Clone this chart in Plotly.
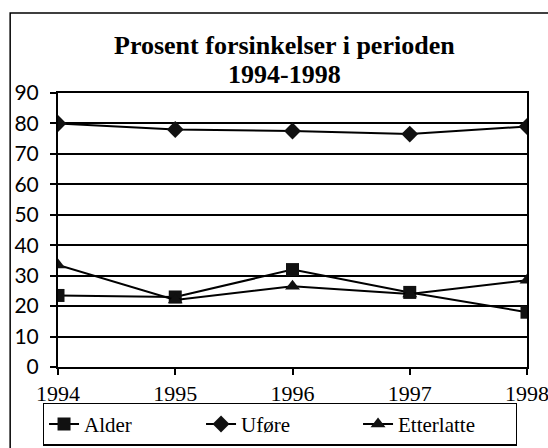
import plotly.graph_objects as go

# data
years = [1994, 1995, 1996, 1997, 1998]
alder = [23.5, 23, 32, 24.5, 18]
ufore = [80, 78, 77.5, 76.5, 79]
etterlatte = [33.5, 22, 26.5, 24, 28.5]

y_ticks = [0, 10, 20, 30, 40, 50, 60, 70, 80, 90]

SERIF = "Liberation Serif, Times New Roman, serif"

fig = go.Figure()

fig.add_trace(go.Scatter(
    x=years, y=alder, name="Alder", mode="lines+markers",
    line=dict(color="black", width=2),
    marker=dict(symbol="square", size=13, color="#111"),
))
fig.add_trace(go.Scatter(
    x=years, y=ufore, name="Uføre", mode="lines+markers",
    line=dict(color="black", width=2),
    marker=dict(symbol="diamond", size=13, color="#111"),
))
fig.add_trace(go.Scatter(
    x=years, y=etterlatte, name="Etterlatte", mode="lines+markers",
    line=dict(color="black", width=2),
    marker=dict(symbol="triangle-up", size=13, color="#111"),
))

# outer frame of the chart (runs off the right and bottom edges)
fig.add_shape(type="rect", xref="paper", yref="paper",
              x0=-0.102, x1=1.2, y0=-0.5, y1=1.292,
              line=dict(color="black", width=1.5), layer="below")

# two-line title
fig.add_annotation(text="<b>Prosent forsinkelser i perioden</b>",
                   xref="paper", yref="paper", x=0.484, y=1.175,
                   xanchor="center", yanchor="middle",
                   showarrow=False, font=dict(family=SERIF, size=26))
fig.add_annotation(text="<b>1994-1998</b>",
                   xref="paper", yref="paper", x=0.484, y=1.066,
                   xanchor="center", yanchor="middle",
                   showarrow=False, font=dict(family=SERIF, size=26))

fig.update_layout(
    width=548, height=448,
    margin=dict(l=58, r=21, t=93, b=81, autoexpand=False),
    paper_bgcolor="white", plot_bgcolor="white",
    font=dict(family=SERIF, size=21, color="black"),
    showlegend=True,
    legend=dict(
        orientation="h", x=0.473, xanchor="center", y=-0.13, yanchor="top",
        bordercolor="black", borderwidth=1.2, bgcolor="white",
        font=dict(family=SERIF, size=21),
        entrywidth=112, entrywidthmode="pixels",
    ),
)

fig.update_xaxes(
    range=[1994, 1998], tickvals=years,
    showgrid=False, zeroline=False,
    showline=True, linecolor="black", linewidth=2, mirror=True,
    ticks="outside", ticklen=6, tickcolor="black", tickwidth=1.5,
    tickfont=dict(family=SERIF, size=22),
    ticklabeloverflow="allow",
)
fig.update_yaxes(
    range=[0, 90], tickvals=y_ticks,
    showgrid=True, gridcolor="black", gridwidth=1.8,
    zeroline=False,
    showline=True, linecolor="black", linewidth=2, mirror=True,
    ticks="outside", ticklen=6, tickcolor="black", tickwidth=1.5,
    tickfont=dict(family="Lato, sans-serif", size=21),
    ticklabelstandoff=7,
)

# remove the page's default body margin so the figure sits at the corner
fig.write_html("out.html", config={"displayModeBar": False},
               post_script="document.body.style.margin='0';")
